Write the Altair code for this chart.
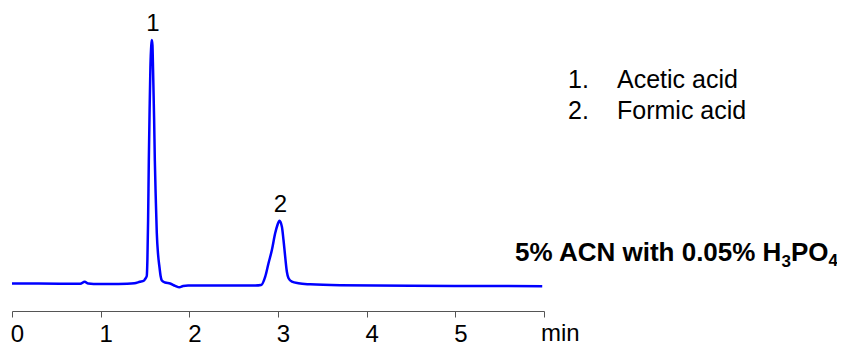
import altair as alt
import pandas as pd

# Chromatogram trace (time in min, signal in arbitrary units)
time_min = [0.00, 0.30, 0.60, 0.77, 0.82, 0.86, 0.92, 1.10, 1.30, 1.38, 1.44, 1.49,
            1.501, 1.520, 1.527, 1.535, 1.543, 1.552, 1.561, 1.571, 1.577, 1.584,
            1.591, 1.603, 1.611, 1.622, 1.633, 1.648, 1.663, 1.676, 1.690, 1.727,
            1.783, 1.840, 1.888, 1.930, 1.986, 2.348, 2.743,
            2.810, 2.856, 2.893, 2.931, 2.968, 2.994, 3.017, 3.044, 3.062, 3.081,
            3.100, 3.119, 3.157, 3.231, 3.363, 3.702, 4.50, 5.20, 5.98]
signal = [1.0, 0.9, 0.7, 0.7, 2.8, 0.9, 0.5, 0.5, 0.7, 1.2, 2.7, 4.0,
          5.5, 8.5, 24.5, 64.5, 123.5, 174.5, 217.5, 239.5, 244.5, 239.5,
          214.5, 164.5, 123.5, 84.5, 51.5, 29.5, 17.5, 8.5, 4.0, 2.0,
          1.0, -1.3, -2.8, -1.5, -1.1, -1.1, -1.0,
          -0.5, 7.8, 21.2, 34.5, 51.2, 59.5, 63.8, 57.8, 44.5, 27.8,
          12.8, 6.2, 2.8, 1.2, 0.2, -0.8, -1.3, -1.5, -1.7]

peak_labels = ["1", "2"]
peak_time = [1.577, 3.017]
peak_signal = [244.5, 63.8]

legend_nums = ["1.", "2."]
legend_names = ["Acetic acid", "Formic acid"]
condition_parts = ["5% ACN with 0.05% H", "3", "PO", "4"]
tick_values = [0, 1, 2, 3, 4, 5, 6]

FONT = "Liberation Sans"
W, H = 532, 303

trace = pd.DataFrame({"t": time_min, "s": signal})
peaks = pd.DataFrame({"t": peak_time, "s": peak_signal, "label": peak_labels})

x_scale = alt.Scale(domain=[0, 6], nice=False, zero=False)
y_scale = alt.Scale(domain=[-26.5, 276.5], nice=False, zero=False)

x_axis = alt.Axis(
    values=tick_values, title=None, grid=False, tickSize=6, tickColor="#555555",
    domainColor="#555555", labelColor="#000000", labelFont=FONT, labelFontSize=24,
    labelPadding=5, labelOffset=5, format="d",
    labelExpr="datum.value == 6 ? '' : datum.label", labelFlush=False)

line = alt.Chart(trace).mark_line(color="#0000ff", strokeWidth=2.5, interpolate="monotone").encode(
    x=alt.X("t:Q", scale=x_scale, axis=x_axis),
    y=alt.Y("s:Q", scale=y_scale, axis=None),
)

peak_text = alt.Chart(peaks).mark_text(font=FONT, fontSize=24, baseline="bottom", dy=-4, dx=1, color="#000000").encode(
    x=alt.X("t:Q", scale=x_scale, axis=x_axis), y=alt.Y("s:Q", scale=y_scale, axis=None), text="label:N"
)

min_text = alt.Chart(pd.DataFrame({"t": [6], "txt": ["min"]})).mark_text(
    font=FONT, fontSize=24, align="left", baseline="alphabetic", dx=-3, color="#000000"
).encode(x=alt.X("t:Q", scale=x_scale, axis=x_axis), y=alt.value(H + 30), text="txt:N")


def txt(value, x, y, size=25, weight="normal", align="left"):
    return alt.Chart(pd.DataFrame({"v": [value]})).mark_text(
        font=FONT, fontSize=size, fontWeight=weight, align=align, baseline="alphabetic", color="#000000"
    ).encode(x=alt.value(x), y=alt.value(y), text="v:N")


legend_layers = []
for i, (n, name) in enumerate(zip(legend_nums, legend_names)):
    yy = 80 + 31 * i
    legend_layers.append(txt(n, 556, yy))
    legend_layers.append(txt(name, 605, yy))

# condition text with real subscripts (pieces right-aligned from the end)
cond_layers = [
    txt(condition_parts[3], 826, 252 + 6, size=17, weight="bold", align="right"),
    txt(condition_parts[2], 826 - 9.5, 253, size=26, weight="bold", align="right"),
    txt(condition_parts[1], 826 - 9.5 - 37.6, 253 + 6, size=17, weight="bold", align="right"),
    txt(condition_parts[0], 826 - 9.5 - 37.6 - 9.5, 253, size=26, weight="bold", align="right"),
]

chart = alt.layer(line, peak_text, min_text, *legend_layers, *cond_layers).properties(
    width=W, height=H, background="white",
    autosize=alt.AutoSizeParams(type="none"),
    padding={"left": 4, "top": 0, "right": 293, "bottom": 34},
).configure_view(strokeWidth=0, strokeOpacity=0)

chart.save("out.html", embed_options={"renderer": "svg", "actions": False})
